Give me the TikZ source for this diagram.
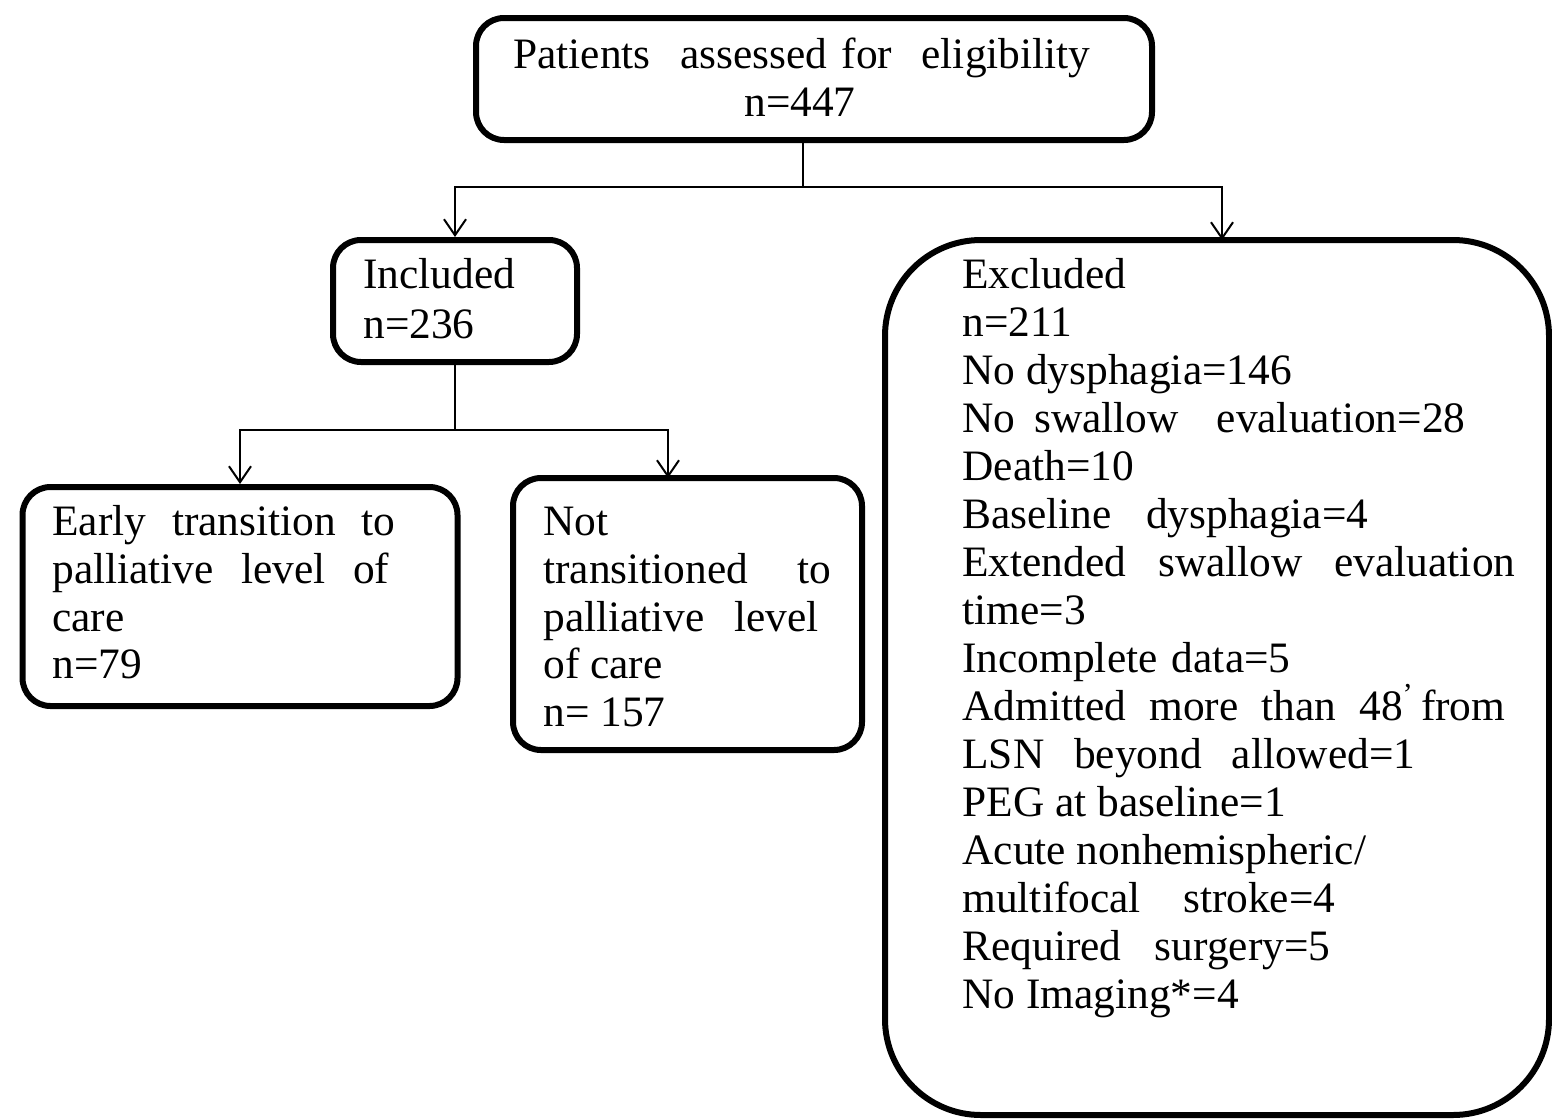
\documentclass[tikz,border=0pt]{standalone}
\usepackage{fontspec}
\setmainfont{Liberation Serif}
\usetikzlibrary{arrows.meta}
\newlength\pxu
\setlength\pxu{0.5pt}
\newcommand{\jl}[2]{\makebox[#1\pxu][s]{#2}}
\begin{document}
\begin{tikzpicture}[x=0.5pt,y=-0.5pt,
  box/.style={draw=black, line width=3pt, rounded corners=14pt, inner sep=0pt},
  bigbox/.style={draw=black, line width=3pt, rounded corners=48pt, inner sep=0pt},
  conn/.style={draw=black, line width=1.2pt},
  arr/.style={conn, -{Straight Barb[length=8pt,width=11pt,line width=1pt]}},
  txt/.style={anchor=base west, inner sep=0pt, font=\fontsize{21.7}{24}\selectfont},
  ctxt/.style={anchor=base, inner sep=0pt, font=\fontsize{21.7}{24}\selectfont}]
\useasboundingbox[fill=white] (0,0) rectangle (1552,1119);

% boxes
\node[box, minimum width=676*0.5pt, minimum height=122*0.5pt] (top) at (814,79) {};
\node[box, minimum width=244*0.5pt, minimum height=122*0.5pt] (inc) at (455,301) {};
\node[box, minimum width=435*0.5pt, minimum height=219*0.5pt] (early) at (240,596.5) {};
\node[box, minimum width=349*0.5pt, minimum height=272*0.5pt] (notb) at (687.5,614) {};
\node[bigbox, minimum width=664*0.5pt, minimum height=875*0.5pt] (exc) at (1217,677.5) {};

% connector coordinates
\coordinate (j1) at (803,187);
\coordinate (s1) at (803,140);
\coordinate (eN) at (1222,240);
\coordinate (j2) at (455,430);
\coordinate (nN) at (668,478);

\draw[conn] (s1) -- (j1);
\draw[arr] (j1) -| (inc.north);
\draw[arr] (j1) -| (eN);
\draw[conn] (inc.south) -- (j2);
\draw[arr] (j2) -| (early.north);
\draw[arr] (j2) -| (nN);

% top box text
\node[txt] (ta) at (513,68) {\jl{577}{Patients \ assessed for \ eligibility}};
\node[ctxt] (tb) at (800,116) {n=447};

% included
\node[txt] (ia) at (363,288) {Included};
\node[txt] (ib) at (363,338) {n=236};

% early
\node[txt] (ea) at (52,535) {\jl{343}{Early transition to}};
\node[txt] (eb) at (52,583) {\jl{337}{palliative level of}};
\node[txt] (ec) at (52,631) {care};
\node[txt] (ed) at (52,678) {n=79};

% not transitioned
\node[txt] (na) at (543,535) {Not};
\node[txt] (nb) at (543,583) {\jl{288}{transitioned to}};
\node[txt] (nc) at (543,631) {\jl{275}{palliative level}};
\node[txt] (nd) at (543,678) {of care};
\node[txt] (ne) at (543,726) {n= 157};

% excluded
\node[txt] (x1) at (962,288) {Excluded};
\node[txt] (x2) at (962,336) {n=211};
\node[txt] (x3) at (962,384) {No dysphagia=146};
\node[txt] (x4) at (962,432) {\jl{503}{No swallow \ evaluation=28}};
\node[txt] (x5) at (962,480) {Death=10};
\node[txt] (x6) at (962,528) {\jl{406}{Baseline dysphagia=4}};
\node[txt] (x7) at (962,576) {\jl{553}{Extended swallow evaluation}};
\node[txt] (x8) at (962,624) {time=3};
\node[txt] (x9) at (962,672) {\jl{328}{Incomplete data=5}};
\node[txt] (x10) at (962,720) {\jl{543}{Admitted more than 48\textsuperscript{’}\,from}};
\node[txt] (x11) at (962,768) {\jl{453}{LSN beyond allowed=1}};
\node[txt] (x12) at (962,816) {PEG at baseline=1};
\node[txt] (x13) at (962,864) {Acute nonhemispheric/};
\node[txt] (x14) at (962,912) {\jl{373}{multifocal stroke=4}};
\node[txt] (x15) at (962,960) {\jl{368}{Required surgery=5}};
\node[txt] (x16) at (962,1008) {No Imaging*=4};
\end{tikzpicture}
\end{document}
